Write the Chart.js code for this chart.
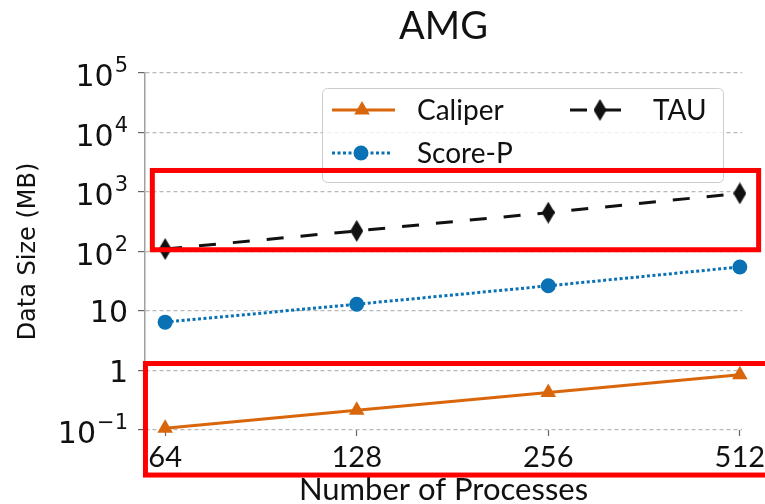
<!DOCTYPE html>
<html lang="en">
<head>
<meta charset="UTF-8">
<title>AMG</title>
<script src="https://cdn.jsdelivr.net/npm/chart.js"></script>
<style>
    html, body { margin: 0; padding: 0; background: #fff; }
    #wrap { width: 765px; height: 504px; }
</style>
</head>
<body>
<div id="wrap"><canvas id="amgChart" width="765" height="504"></canvas></div>
<script>
// values (MB, log scale)
const processes = [64, 128, 256, 512];
const caliperMB = [0.107, 0.215, 0.425, 0.85];
const scorepMB = [6.5, 13, 26.5, 55];
const tauMB = [110, 222, 450, 950];
const yTickValues = [0.1, 1, 10, 100, 1000, 10000, 100000];
// tick label = base with optional superscript exponent
const yTickBase = ['10', '1', '10', '10', '10', '10', '10'];
const yTickExp = ['\u22121', '', '', '2', '3', '4', '5'];

// red highlight boxes, in data units (x = processes, y = MB)
const boxX = [[61.1, 548], [59.6, 640]];
const boxY = [[107, 2300], [0.0175, 1.31]];

const ORANGE = '#d9660b';
const BLUE = '#0a72b4';
const BLACK = '#111111';

// matplotlib style thin diamond marker
function thinDiamond(w, h, color) {
    const c = document.createElement('canvas');
    c.width = w; c.height = h;
    const g = c.getContext('2d');
    g.fillStyle = color;
    g.beginPath();
    g.moveTo(w / 2, 0);
    g.lineTo(w, h / 2);
    g.lineTo(w / 2, h);
    g.lineTo(0, h / 2);
    g.closePath();
    g.fill();
    return c;
}
const diamond = thinDiamond(13, 22, BLACK);

function points(vals) {
    return processes.map((p, i) => ({ x: p, y: vals[i] }));
}

// y tick labels with real superscripts (mathtext look)
const powerLabels = {
    id: 'powerLabels',
    afterDraw(chart) {
        const ctx = chart.ctx;
        const ys = chart.scales.y;
        const right = ys.right - 17;
        ctx.save();
        ctx.fillStyle = '#111';
        ctx.textAlign = 'right';
        ctx.textBaseline = 'alphabetic';
        yTickValues.forEach((v, i) => {
            const y = ys.getPixelForValue(v);
            const exp = yTickExp[i];
            let x = right;
            let base = y + 11;
            if (exp) {
                base = y + 13;
                ctx.font = '21px "DejaVu Sans"';
                ctx.fillText(exp, x, base - 14);
                x -= ctx.measureText(exp).width + 1;
            }
            ctx.font = '30px "DejaVu Sans"';
            ctx.fillText(yTickBase[i], x, base);
        });
        ctx.restore();
    }
};

// legend drawn by hand: matplotlib fills columns first
const legendSlots = [
    { x: 332, y: 110 },   // Caliper
    { x: 332, y: 153 },   // Score-P
    { x: 570, y: 110 }    // TAU
];

const amgLegend = {
    id: 'amgLegend',
    afterDraw(chart) {
        const ctx = chart.ctx;
        ctx.save();
        // frame
        ctx.beginPath();
        ctx.roundRect(322.5, 88.5, 401, 94, 5);
        ctx.fillStyle = 'rgba(255,255,255,0.8)';
        ctx.fill();
        ctx.strokeStyle = '#cccccc';
        ctx.lineWidth = 1;
        ctx.stroke();

        chart.data.datasets.forEach((ds, i) => {
            const s = legendSlots[i];
            ctx.beginPath();
            ctx.setLineDash(ds.borderDash || []);
            ctx.strokeStyle = ds.borderColor;
            ctx.lineWidth = ds.borderWidth;
            ctx.moveTo(s.x, s.y);
            ctx.lineTo(s.x + ds.legendLen, s.y);
            ctx.stroke();
            ctx.setLineDash([]);
            const mx = s.x + ds.legendMarker;
            if (ds.pointStyle instanceof HTMLCanvasElement) {
                ctx.drawImage(ds.pointStyle, mx - ds.pointStyle.width / 2, s.y - ds.pointStyle.height / 2);
            } else {
                ctx.fillStyle = ds.pointBackgroundColor;
                Chart.helpers.drawPoint(ctx, { pointStyle: ds.pointStyle, radius: ds.pointRadius, borderWidth: 0, rotation: 0 }, mx, s.y);
            }
            ctx.fillStyle = '#111';
            ctx.font = '28px Lato';
            ctx.textBaseline = 'middle';
            ctx.textAlign = 'left';
            ctx.fillText(ds.label, s.x + (i === 2 ? 83 : 85), s.y + 1);
        });

        // red boxes on top of everything
        const xs = chart.scales.x, ys = chart.scales.y;
        ctx.strokeStyle = '#ff0000';
        ctx.lineWidth = 5;
        boxX.forEach((bx, i) => {
            const x1 = xs.getPixelForValue(bx[0]);
            const x2 = xs.getPixelForValue(bx[1]);
            const y1 = ys.getPixelForValue(boxY[i][1]);
            const y2 = ys.getPixelForValue(boxY[i][0]);
            ctx.strokeRect(x1, y1, x2 - x1, y2 - y1);
        });
        ctx.restore();
    }
};

const chart = new Chart(document.getElementById('amgChart'), {
    type: 'line',
    data: {
        datasets: [
            {
                label: 'Caliper',
                data: points(caliperMB),
                borderColor: ORANGE,
                backgroundColor: ORANGE,
                pointBackgroundColor: ORANGE,
                borderWidth: 3,
                pointStyle: 'triangle',
                pointRadius: 9,
                pointBorderWidth: 0,
                legendLen: 63, legendMarker: 30,
                clip: false
            },
            {
                label: 'Score-P',
                data: points(scorepMB),
                borderColor: BLUE,
                backgroundColor: BLUE,
                pointBackgroundColor: BLUE,
                borderWidth: 3,
                borderDash: [3, 2.5],
                pointStyle: 'circle',
                pointRadius: 7.5,
                pointBorderWidth: 0,
                legendLen: 60, legendMarker: 29,
                clip: false
            },
            {
                label: 'TAU',
                data: points(tauMB),
                borderColor: BLACK,
                backgroundColor: BLACK,
                pointBackgroundColor: BLACK,
                borderWidth: 3,
                borderDash: [17, 17],
                pointStyle: diamond,
                pointRadius: 11,
                pointBorderWidth: 0,
                legendLen: 52, legendMarker: 30,
                clip: false
            }
        ]
    },
    options: {
        responsive: false,
        animation: false,
        layout: { padding: { left: 0, right: 23, top: 0, bottom: 0 } },
        plugins: {
            legend: { display: false },
            tooltip: { enabled: false },
            title: {
                display: true,
                fullSize: false,
                text: 'AMG',
                color: '#111',
                font: { family: 'Lato', size: 38, weight: 'normal' },
                padding: { top: 4, bottom: 23.4 }
            }
        },
        scales: {
            x: {
                type: 'logarithmic',
                min: 59.5,
                max: 516,
                afterBuildTicks: s => { s.ticks = processes.map(v => ({ value: v })); },
                afterFit: s => { s.height = 74; s.paddingLeft = 0; s.paddingRight = 0; },
                ticks: {
                    callback: v => String(v),
                    color: '#111',
                    font: { family: 'Lato', size: 29 },
                    padding: 4,
                    maxRotation: 0,
                    autoSkip: false
                },
                grid: { drawOnChartArea: false, drawTicks: true, tickLength: 6, tickColor: '#666', tickWidth: 1.2 },
                border: { display: false },
                title: {
                    display: true,
                    text: 'Number of Processes',
                    color: '#111',
                    font: { family: 'Lato', size: 31, lineHeight: 0.9 },
                    padding: { top: 0, bottom: 0 }
                }
            },
            y: {
                type: 'logarithmic',
                min: 0.1,
                max: 100000,
                afterBuildTicks: s => { s.ticks = yTickValues.map(v => ({ value: v })); },
                afterFit: s => { s.width = 145; s.paddingTop = 0; s.paddingBottom = 0; },
                ticks: { display: false },
                grid: { color: '#b8b8b8', lineWidth: 1.2, tickLength: 7, tickColor: '#666', tickWidth: 1.2, tickBorderDash: [] },
                border: { display: true, color: '#a0a0a0', width: 1.5, dash: [4, 3] },
                title: {
                    display: true,
                    text: 'Data Size (MB)',
                    color: '#111',
                    font: { family: 'DejaVu Sans', size: 24 },
                    padding: { top: 14, bottom: 0 }
                }
            }
        }
    },
    plugins: [powerLabels, amgLegend]
});
</script>
</body>
</html>
